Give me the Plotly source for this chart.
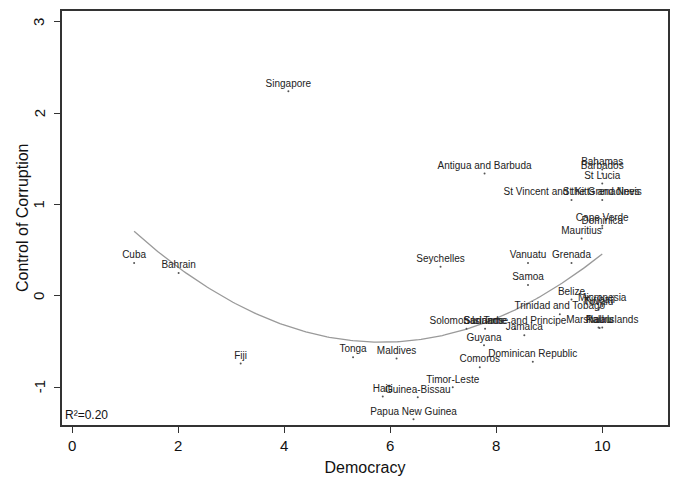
import numpy as np
import plotly.graph_objects as go

# Country labels with democracy score and control-of-corruption estimate
countries = [
    "Singapore", "Antigua and Barbuda", "Bahamas", "Barbados", "St Lucia",
    "St Kitts and Nevis", "St Vincent and the Grenadines", "Cape Verde", "Dominica",
    "Mauritius", "Grenada", "Vanuatu", "Seychelles", "Samoa", "Cuba", "Bahrain",
    "Belize", "Micronesia", "Kiribati", "Tuvalu", "Trinidad and Tobago",
    "Marshall Islands", "Palau", "Nauru", "Solomon Islands", "Suriname",
    "Sao Tome and Principe", "Jamaica", "Guyana", "Tonga", "Maldives", "Fiji",
    "Dominican Republic", "Comoros", "Timor-Leste", "Haiti", "Guinea-Bissau",
    "Papua New Guinea",
]
democracy = [
    4.08, 7.78, 10.0, 10.0, 10.0,
    10.0, 9.42, 10.0, 10.0,
    9.61, 9.42, 8.60, 6.95, 8.60, 1.17, 2.01,
    9.42, 10.0, 9.95, 9.93, 9.20,
    10.0, 9.93, 9.95, 7.44, 7.79,
    8.35, 8.53, 7.77, 5.30, 6.12, 3.18,
    8.69, 7.69, 7.18, 5.86, 6.52,
    6.44,
]
corruption = [
    2.24, 1.34, 1.385, 1.34, 1.23,
    1.05, 1.05, 0.77, 0.74,
    0.63, 0.36, 0.36, 0.32, 0.12, 0.36, 0.25,
    -0.04, -0.11, -0.13, -0.15, -0.20,
    -0.345, -0.345, -0.35, -0.36, -0.36,
    -0.36, -0.43, -0.54, -0.67, -0.685, -0.74,
    -0.72, -0.78, -1.00, -1.10, -1.11,
    -1.35,
]
x_ticks = [0, 2, 4, 6, 8, 10]
y_ticks = [-1, 0, 1, 2, 3]
r2_label = "R²=0.20"

# Quadratic fit across the observed democracy range
coef = np.polyfit(democracy, corruption, 2)
xs = np.linspace(min(democracy), max(democracy), 200)
ys = np.polyval(coef, xs)

FONT = "Liberation Sans, Arial, Helvetica, sans-serif"
INK = "#111111"

fig = go.Figure()
fig.add_trace(go.Scatter(
    x=xs, y=ys, mode="lines",
    line=dict(color="#9a9a9a", width=1.3),
    hoverinfo="skip", showlegend=False,
))
fig.add_trace(go.Scatter(
    x=democracy, y=corruption, mode="markers+text",
    text=countries, textposition="top center",
    textfont=dict(family=FONT, size=10, color="#222222"),
    marker=dict(size=2, color="#555555"),
    showlegend=False,
))

# R-squared note in the lower-left corner of the plot box
fig.add_annotation(
    xref="paper", yref="paper", x=0, y=0, xanchor="left", yanchor="bottom",
    xshift=1, yshift=1, text=r2_label, showarrow=False,
    font=dict(family=FONT, size=12, color=INK),
)

# Rotated y tick labels, set a little further out from the axis
for v in y_ticks:
    fig.add_annotation(
        xref="paper", yref="y", x=0, y=v, xanchor="center", yanchor="middle",
        xshift=-23, text=str(v), textangle=-90, showarrow=False,
        font=dict(family=FONT, size=15, color=INK),
    )

# Y axis title
fig.add_annotation(
    xref="paper", yref="paper", x=0, y=0.5, xanchor="center", yanchor="middle",
    xshift=-40, text="Control of Corruption", textangle=-90, showarrow=False,
    font=dict(family=FONT, size=16, color=INK),
)

axis_common = dict(
    showline=True, linecolor="#333333", linewidth=1.5, mirror=True,
    ticks="outside", ticklen=6, tickwidth=1, tickcolor="#333333",
    showgrid=False, zeroline=False,
    tickfont=dict(family=FONT, size=15, color=INK),
)

fig.update_layout(
    width=673, height=479,
    margin=dict(l=62, r=3, t=11, b=54),
    paper_bgcolor="white", plot_bgcolor="white",
    xaxis=dict(
        range=[-0.19, 11.24], tickvals=x_ticks,
        title=dict(text="Democracy", font=dict(family=FONT, size=16, color=INK), standoff=9),
        **axis_common,
    ),
    yaxis=dict(
        range=[-1.413, 3.12], tickvals=y_ticks, showticklabels=False,
        **axis_common,
    ),
)

fig.write_html("out.html")
